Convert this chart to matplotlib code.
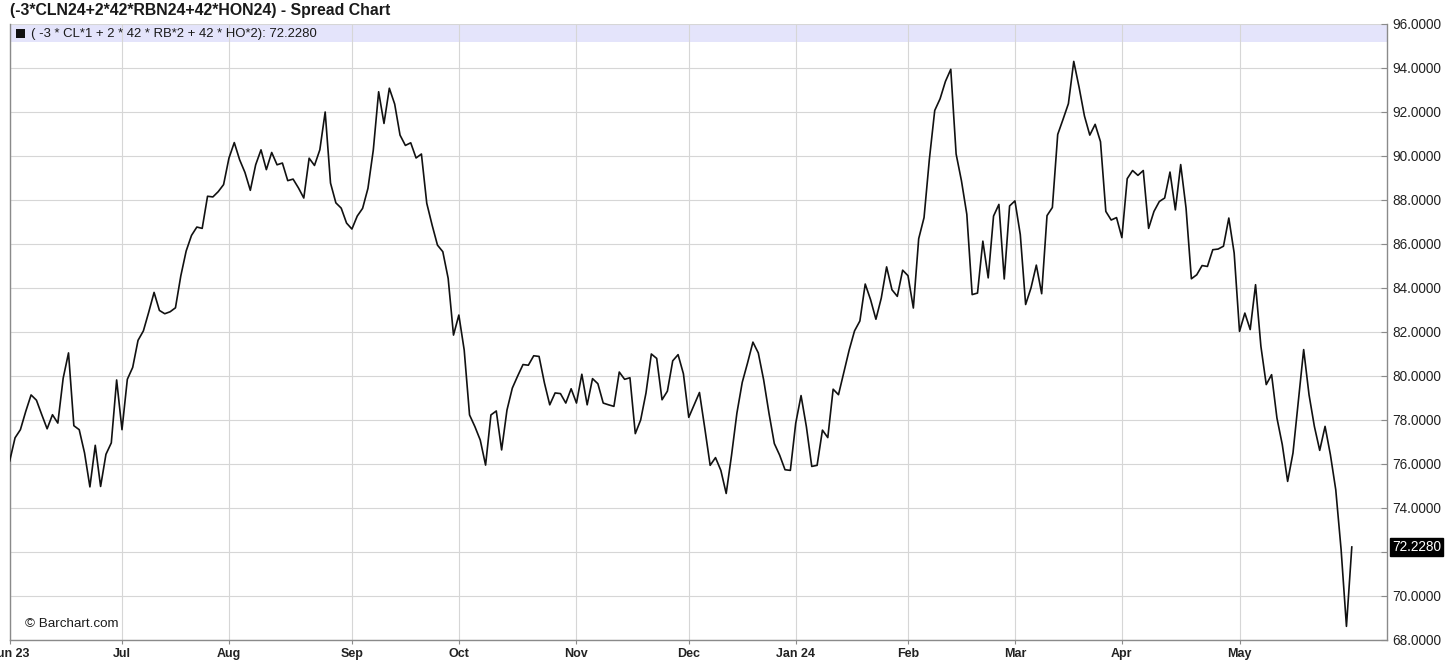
import matplotlib
matplotlib.use("Agg")
import matplotlib.pyplot as plt
import matplotlib.transforms as mtransforms
from matplotlib.patches import Rectangle
import numpy as np

plt.rcParams['font.family'] = ['Liberation Sans', 'DejaVu Sans']

# ---- data (daily spread values) ----
jun_2023 = [76.14, 77.19, 77.56, 78.39, 79.14, 78.90, 78.24, 77.60, 78.24, 77.86,
            79.90, 81.05, 77.74, 77.56, 76.50, 74.96, 76.85, 74.98, 76.44, 76.96, 79.82]
jul_2023 = [77.56, 79.85, 80.39, 81.62, 82.05, 82.90, 83.80, 82.98, 82.83, 82.92,
            83.10, 84.55, 85.68, 86.39, 86.77, 86.71, 88.17, 88.14, 88.38, 88.70]
aug_2023 = [89.90, 90.61, 89.83, 89.25, 88.44, 89.60, 90.28, 89.38, 90.16, 89.60,
            89.68, 88.88, 88.95, 88.55, 88.09, 89.90, 89.57, 90.28, 92.00, 88.77,
            87.87, 87.63, 86.95]
sep_2023 = [86.68, 87.27, 87.62, 88.53, 90.27, 92.92, 91.48, 93.08, 92.36, 90.95,
            90.48, 90.60, 89.91, 90.09, 87.85, 86.86, 85.95, 85.65, 84.44, 81.86]
oct_2023 = [82.77, 81.18, 78.23, 77.70, 77.09, 75.95, 78.23, 78.41, 76.64, 78.45,
            79.45, 80.00, 80.52, 80.49, 80.92, 80.89, 79.69, 78.69, 79.23, 79.20,
            78.77, 79.42]
nov_2023 = [78.77, 80.08, 78.69, 79.88, 79.65, 78.77, 78.69, 78.62, 80.18, 79.85,
            79.92, 77.38, 78.00, 79.23, 81.00, 80.80, 78.92, 79.31, 80.69, 80.97, 80.10]
dec_2023 = [78.12, 78.69, 79.25, 77.62, 75.94, 76.29, 75.71, 74.66, 76.40, 78.31,
            79.71, 80.60, 81.54, 81.05, 79.83, 78.31, 76.93, 76.40, 75.74, 75.71]
jan_2024 = [77.85, 79.11, 77.69, 75.89, 75.94, 77.54, 77.20, 79.40, 79.15, 80.17,
            81.18, 82.05, 82.50, 84.18, 83.47, 82.58, 83.54, 84.96, 83.92, 83.62, 84.81]
feb_2024 = [84.56, 83.09, 86.24, 87.20, 89.86, 92.07, 92.60, 93.39, 93.94, 90.09,
            88.87, 87.35, 83.70, 83.77, 86.13, 84.46, 87.27, 87.80, 84.41, 87.73]
mar_2024 = [87.96, 86.43, 83.25, 84.00, 85.04, 83.74, 87.29, 87.66, 90.98, 91.67,
            92.38, 94.30, 93.12, 91.82, 90.95, 91.44, 90.65, 87.48, 87.09, 87.20]
apr_2024 = [86.29, 88.97, 89.34, 89.12, 89.34, 86.71, 87.48, 87.93, 88.09, 89.27,
            87.55, 89.61, 87.63, 84.42, 84.60, 85.02, 84.98, 85.74, 85.77, 85.90,
            87.18, 85.59]
may_2024 = [82.03, 82.86, 82.11, 84.15, 81.35, 79.61, 80.06, 78.09, 76.88, 75.21,
            76.50, 78.85, 81.20, 79.15, 77.71, 76.62, 77.71, 76.42, 74.83, 72.11,
            68.62, 72.228]

months = [jun_2023, jul_2023, aug_2023, sep_2023, oct_2023, nov_2023,
          dec_2023, jan_2024, feb_2024, mar_2024, apr_2024, may_2024]
month_labels = ['Jun 23', 'Jul', 'Aug', 'Sep', 'Oct', 'Nov',
                'Dec', 'Jan 24', 'Feb', 'Mar', 'Apr', 'May']
y_ticks = [68, 70, 72, 74, 76, 78, 80, 82, 84, 86, 88, 90, 92, 94, 96]

title_text = "(-3*CLN24+2*42*RBN24+42*HON24) - Spread Chart"
legend_text = "( -3 * CL*1 + 2 * 42 * RB*2 + 42 * HO*2): 72.2280"
last_label = "72.2280"

values = np.concatenate([np.array(m, dtype=float) for m in months])
idx = np.arange(len(values))
month_starts = np.cumsum([0] + [len(m) for m in months[:-1]])

# ---- figure ----
W, H = 1456, 670
fig = plt.figure(figsize=(W / 100, H / 100), dpi=100)
left_px, right_px, top_px, bot_px = 9.7, 1387, 24, 640
ax = fig.add_axes([left_px / W, 1 - bot_px / H, (right_px - left_px) / W, (bot_px - top_px) / H])

grid_c = '#d6d6d6'
spine_c = '#8a8a8a'

ax.set_ylim(68, 96)
ax.set_xlim(0, (right_px - left_px) / 5.347)

# legend band
band = Rectangle((0, 1 - 18 / 616), 1, 18 / 616, transform=ax.transAxes,
                 facecolor='#e4e4fb', edgecolor='none', zorder=0.5)
ax.add_patch(band)

ax.plot(idx, values, color='#111111', lw=1.2, zorder=3)

ax.set_yticks(y_ticks)
ax.set_yticklabels(["" if abs(v - values[-1]) < 1.0 else f"{v:.4f}" for v in y_ticks])
ax.set_xticks(month_starts)
ax.set_xticklabels(month_labels)

ax.yaxis.tick_right()
ax.tick_params(axis='y', direction='in', length=4, width=0.8, color=spine_c,
               labelsize=9.8, labelcolor='#222222', pad=4)
ax.tick_params(axis='x', direction='out', length=3, width=0.8, color=spine_c,
               labelsize=9, labelcolor='#222222', pad=3)
for lab in ax.get_xticklabels():
    lab.set_fontweight('bold')

ax.grid(True, color=grid_c, lw=0.8)
ax.set_axisbelow(True)

ax.spines['top'].set_visible(False)
for s in ['left', 'right', 'bottom']:
    ax.spines[s].set_color(spine_c)
    ax.spines[s].set_linewidth(1.0)

# last value box
trans = mtransforms.blended_transform_factory(ax.transAxes, ax.transData)
ax.text(1.0 + 5 / (right_px - left_px), values[-1], last_label, transform=trans,
        ha='left', va='center', fontsize=9.8, color='white',
        bbox=dict(boxstyle='square,pad=0.12', facecolor='black', edgecolor='black'),
        zorder=5, clip_on=False)

# texts
fig.text(10 / W, 1 - 10 / H, title_text, ha='left', va='center',
         fontsize=11.4, fontweight='bold', color='#1a1a1a')
fig.patches.append(Rectangle((16 / W, 1 - 37.5 / H), 9 / W, 8.5 / H,
                             transform=fig.transFigure, facecolor='#111111',
                             edgecolor='none', figure=fig))
fig.text(31 / W, 1 - 33.5 / H, legend_text, ha='left', va='center',
         fontsize=9.45, color='#1a1a1a')
ax.text(15 / (right_px - left_px), 1 - (624 - top_px) / (bot_px - top_px), "\u00a9 Barchart.com",
        transform=ax.transAxes, ha='left', va='center', fontsize=9.6, color='#1a1a1a')

fig.savefig('out.png', dpi=100)
